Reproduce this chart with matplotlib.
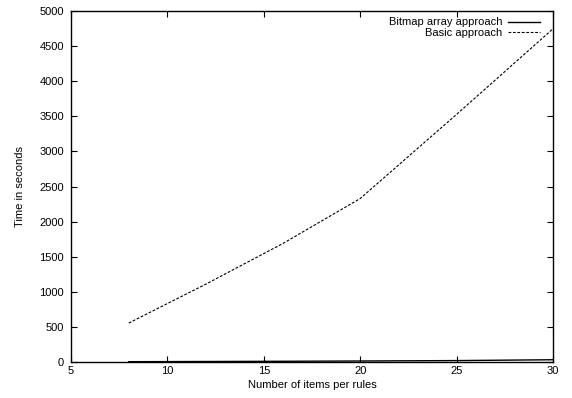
import matplotlib
matplotlib.use("Agg")
import matplotlib.pyplot as plt

plt.rcParams['font.family'] = ['Liberation Sans', 'DejaVu Sans']

# items per rule and measured times
items_basic = [8, 12, 16, 20, 25, 30]
time_basic = [555, 1110, 1690, 2330, 3530, 4750]

items_bitmap = [8, 12, 16, 20, 25, 30]
time_bitmap = [4, 7, 10, 14, 20, 32]

fig = plt.figure(figsize=(5.72, 3.98), dpi=100)
ax = fig.add_axes([0.124, 0.0905, 0.843, 0.8815])

ax.plot(items_bitmap, time_bitmap, color='black', linewidth=1.0, linestyle='-',
        label='Bitmap array approach')
ax.plot(items_basic, time_basic, color='black', linewidth=0.8, linestyle=(0, (2.5, 1.5)),
        label='Basic approach')

ax.set_xlim(5, 30)
ax.set_ylim(0, 5000)
ax.set_xticks(range(5, 31, 5))
ax.set_yticks(range(0, 5001, 500))
ax.tick_params(direction='in', top=True, right=True, length=4, width=0.8,
               labelsize=8, pad=5)
ax.tick_params(axis='x', pad=3)
for s in ax.spines.values():
    s.set_linewidth(1.0)

ax.set_xlabel('Number of items per rules', fontsize=8, labelpad=3)
ax.set_ylabel('Time in seconds', fontsize=8, labelpad=10)

ax.legend(loc='upper right', frameon=False, fontsize=8, markerfirst=False,
          handlelength=2.9, handletextpad=0.5, labelspacing=0.05,
          borderaxespad=0.1, bbox_to_anchor=(0.985, 0.998))

fig.savefig('out.png', dpi=100)
